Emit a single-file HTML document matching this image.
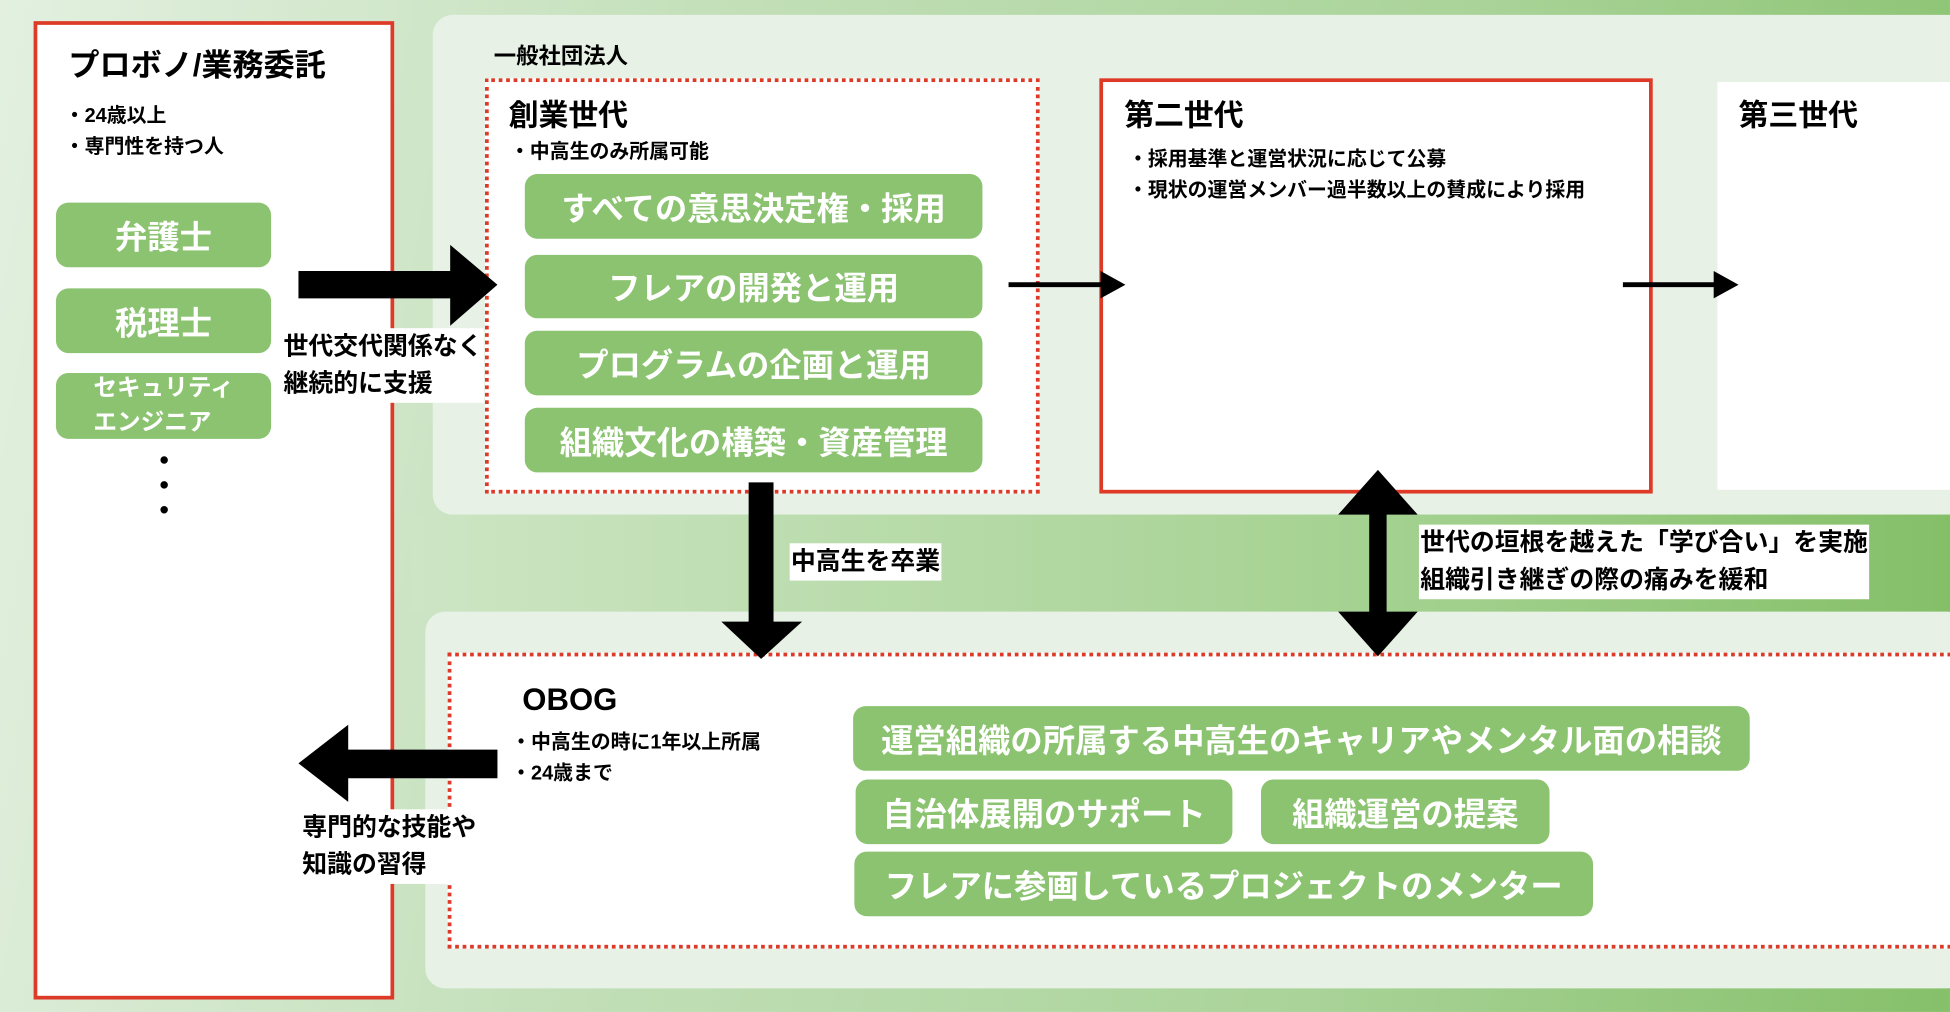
<!DOCTYPE html>
<html><head><meta charset="utf-8"><style>
html,body{margin:0;padding:0;width:1950px;height:1012px;overflow:hidden}
body{font-family:"Liberation Sans","Noto Sans CJK JP",sans-serif;font-weight:bold}
#w{position:absolute;left:0;top:0;width:1568px;height:814px;transform:scale(1.2436,1.2432);transform-origin:0 0;
background:linear-gradient(100deg,#e3f0e0 0%,#c2dfb8 35%,#a9d398 70%,#86c06a 100%)}
.a{position:absolute;white-space:nowrap}
.gb{position:absolute;background:#8bc370;color:#fff;border-radius:10px;font-size:26px;display:flex;align-items:center;justify-content:center;white-space:nowrap}
.lb{position:absolute;background:#fff;font-size:20px;line-height:30px;color:#000;padding:0 1px;white-space:nowrap}
.t14{font-size:16px;color:#000;position:absolute;white-space:nowrap}
</style></head><body><div id="w">
<div class="a" style="left:348px;top:12px;width:1240px;height:402px;background:#e7f1e6;border-radius:16px"></div>
<div class="a" style="left:330px;top:414px;width:1240px;height:78px;background:linear-gradient(90deg,#cde5c4,#9fcf8a 70%,#84bf68)"></div>
<div class="a" style="left:342px;top:492px;width:1240px;height:303px;background:#e7f1e6;border-radius:16px"></div>
<div class="a" style="left:27px;top:17px;width:284px;height:781px;border:3px solid #dd3b27;background:#fff"></div>
<div class="a" style="left:55px;top:33px;font-size:25px">プロボノ/業務委託</div>
<div class="t14" style="left:52px;top:79px">・24歳以上</div>
<div class="t14" style="left:52px;top:104px">・専門性を持つ人</div>
<div class="gb" style="left:45px;top:163px;width:173px;height:52px">弁護士</div>
<div class="gb" style="left:45px;top:232px;width:173px;height:52px">税理士</div>
<div class="gb" style="left:45px;top:300px;width:173px;height:53px;font-size:19px;line-height:28px;flex-direction:column">セキュリティ<br>エンジニア</div>
<div class="a" style="left:129px;top:367px;width:6px;height:6px;border-radius:3px;background:#000"></div>
<div class="a" style="left:129px;top:387px;width:6px;height:6px;border-radius:3px;background:#000"></div>
<div class="a" style="left:129px;top:407px;width:6px;height:6px;border-radius:3px;background:#000"></div>
<div class="a" style="left:397px;top:31px;font-size:18px">一般社団法人</div>
<div class="a" style="left:390px;top:63px;width:440px;height:328px;border:3px dotted #dd3b27;background:#fff"></div>
<div class="a" style="left:409px;top:73px;font-size:24px">創業世代</div>
<div class="t14" style="left:410px;top:108px">・中高生のみ所属可能</div>
<div class="gb" style="left:422px;top:140px;width:368px;height:52px">すべての意思決定権・採用</div>
<div class="gb" style="left:422px;top:205px;width:368px;height:51px">フレアの開発と運用</div>
<div class="gb" style="left:422px;top:266px;width:368px;height:52px">プログラムの企画と運用</div>
<div class="gb" style="left:422px;top:328px;width:368px;height:52px">組織文化の構築・資産管理</div>
<div class="a" style="left:884px;top:63px;width:439px;height:328px;border:3px solid #dd3b27;background:#fff"></div>
<div class="a" style="left:904px;top:73px;font-size:24px">第二世代</div>
<div class="t14" style="left:907px;top:114px">・採用基準と運営状況に応じて公募</div>
<div class="t14" style="left:907px;top:139px">・現状の運営メンバー過半数以上の賛成により採用</div>
<div class="a" style="left:1381px;top:66px;width:200px;height:328px;background:#fff"></div>
<div class="a" style="left:1398px;top:73px;font-size:24px">第三世代</div>
<div class="a" style="left:360px;top:525px;width:1230px;height:232px;border:3px dotted #dd3b27;border-right:none;background:#fff"></div>
<div class="a" style="left:420px;top:549px;font-size:25px">OBOG</div>
<div class="t14" style="left:411px;top:583px">・中高生の時に1年以上所属</div>
<div class="t14" style="left:411px;top:608px">・24歳まで</div>
<div class="gb" style="left:686px;top:568px;width:721px;height:52px">運営組織の所属する中高生のキャリアやメンタル面の相談</div>
<div class="gb" style="left:688px;top:627px;width:303px;height:52px">自治体展開のサポート</div>
<div class="gb" style="left:1014px;top:627px;width:232px;height:52px">組織運営の提案</div>
<div class="gb" style="left:687px;top:685px;width:594px;height:52px">フレアに参画しているプロジェクトのメンター</div>
<svg class="a" style="left:0;top:0" width="1568" height="814">
<polygon points="240,218 362,218 362,197 400,229 362,262 362,240 240,240" fill="#000"/>
<polygon points="811,227 885,227 885,218 905,229 885,240 885,231 811,231" fill="#000"/>
<polygon points="1305,227 1378,227 1378,218 1398,229 1378,240 1378,231 1305,231" fill="#000"/>
<polygon points="602,388 622,388 622,500 645,500 612,530 580,500 602,500" fill="#000"/>
<polygon points="1108,378 1140,414 1115,414 1115,492 1140,492 1108,528 1076,492 1101,492 1101,414 1076,414" fill="#000"/>
<polygon points="400,603 280,603 280,583 240,614 280,645 280,626 400,626" fill="#000"/>
</svg>
<div class="lb" style="left:227px;top:264px">世代交代関係なく<br>継続的に支援</div>
<div class="lb" style="left:635px;top:437px">中高生を卒業</div>
<div class="lb" style="left:1141px;top:422px">世代の垣根を越えた「学び合い」を実施<br>組織引き継ぎの際の痛みを緩和</div>
<div class="lb" style="left:242px;top:651px">専門的な技能や<br>知識の習得</div>
</div></body></html>
